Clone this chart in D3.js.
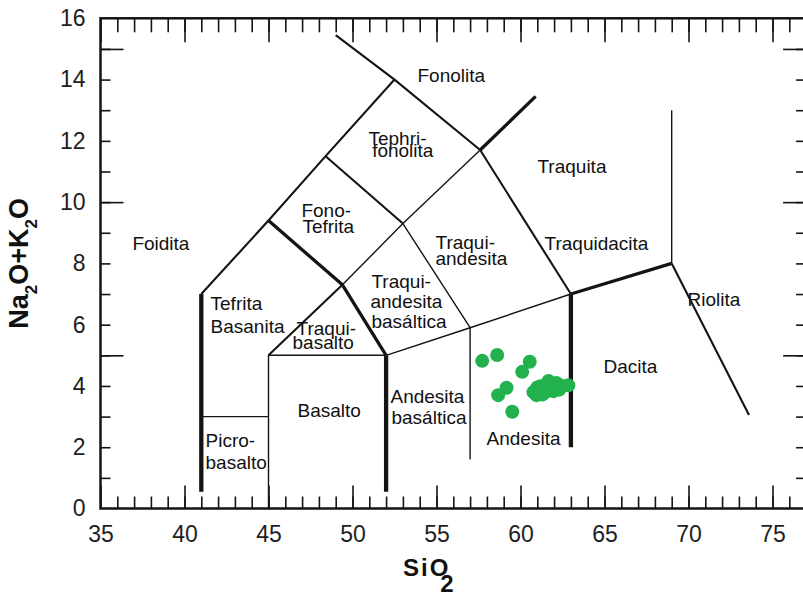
<!DOCTYPE html>
<html>
<head>
<meta charset="utf-8">
<script src="https://cdn.jsdelivr.net/npm/d3@7"></script>
<style>
  html, body { margin: 0; padding: 0; background: #fff; }
  svg { display: block; font-family: "Liberation Sans", Arial, sans-serif; }
</style>
</head>
<body>
<svg id="chart" width="803" height="596"></svg>
<script>
// Tick values
const xLabelTicks = [35, 40, 45, 50, 55, 60, 65, 70, 75];
const xMinorTicks = d3.range(36, 77);
const yLabelTicks = [0, 2, 4, 6, 8, 10, 12, 14, 16];
const yMajorTicks = [5, 10, 15];
const yMinorTicks = d3.range(1, 16);

// Samples: SiO2 (wt%) and Na2O+K2O (wt%)
const sio2   = [57.72, 58.61, 60.55, 60.10, 59.17, 58.67, 59.51,
                60.77, 61.19, 61.67, 62.14, 62.50, 61.49, 61.96, 61.30,
                62.85, 62.30, 61.00, 60.95];
const alkali = [4.82, 5.01, 4.79, 4.46, 3.94, 3.70, 3.16,
                3.80, 3.99, 4.16, 4.10, 4.00, 3.80, 3.83, 3.72,
                4.02, 3.88, 3.95, 3.70];

// TAS field boundaries (SiO2, Na2O+K2O), grouped by drawn weight
const thinBoundaries = [
  [[41, 3], [45, 3]],
  [[45, 0], [45, 5], [52, 5]],
  [[49.4, 7.3], [53, 9.3], [57, 5.9]],
  [[53, 9.3], [57.6, 11.7]],
  [[52, 5], [57, 5.9], [63, 7]],
  [[57, 5.9], [57, 1.6]],
  [[69, 8], [69, 13]]
];
const mediumBoundaries = [
  [[45, 5], [49.4, 7.3]],
  [[41, 7], [45, 9.4], [48.4, 11.5], [52.5, 14], [49, 15.45]],
  [[48.4, 11.5], [53, 9.3]],
  [[52.5, 14], [57.6, 11.7], [63, 7]],
  [[69, 8], [73.6, 3.05]]
];
const heavyBoundaries = [
  [[45, 9.4], [49.4, 7.3], [52, 5]],
  [[57.6, 11.7], [60.9, 13.45]],
  [[63, 7], [69, 8]]
];
const thickBoundaries = [
  [[41, 0.55], [41, 7]],
  [[52, 0.55], [52, 5]],
  [[63, 2], [63, 7]]
];

// Field names, one entry per text line (left edge, baseline)
const fieldNames = [
  { text: "Fonolita",   x: 53.87, y: 13.92 },
  { text: "Tephri-",    x: 50.95, y: 11.86 },
  { text: "fonolita",   x: 51.17, y: 11.47 },
  { text: "Traquita",   x: 61.01, y: 10.95 },
  { text: "Traquidacita", x: 61.43, y: 8.44 },
  { text: "Traqui-",    x: 54.94, y: 8.47 },
  { text: "andesita",   x: 54.94, y: 7.95 },
  { text: "Traqui-",    x: 51.13, y: 7.20 },
  { text: "andesita",   x: 51.07, y: 6.54 },
  { text: "basáltica",  x: 51.13, y: 5.89 },
  { text: "Fono-",      x: 46.96, y: 9.51 },
  { text: "Tefrita",    x: 47.02, y: 8.99 },
  { text: "Tefrita",    x: 41.55, y: 6.48 },
  { text: "Basanita",   x: 41.55, y: 5.73 },
  { text: "Traqui-",    x: 46.67, y: 5.66 },
  { text: "basalto",    x: 46.43, y: 5.21 },
  { text: "Foidita",    x: 36.90, y: 8.44 },
  { text: "Riolita",    x: 69.94, y: 6.61 },
  { text: "Dacita",     x: 64.94, y: 4.42 },
  { text: "Basalto",    x: 46.73, y: 2.99 },
  { text: "Picro-",     x: 41.25, y: 2.01 },
  { text: "basalto",    x: 41.25, y: 1.29 },
  { text: "Andesita",   x: 52.26, y: 3.44 },
  { text: "basáltica",  x: 52.32, y: 2.75 },
  { text: "Andesita",   x: 57.98, y: 2.07 }
];

const svg = d3.select("#chart");
const x = d3.scaleLinear().domain([35, 77]).range([100.5, 806.1]);
const y = d3.scaleLinear().domain([0, 16]).range([508.5, 18.3]);
const ink = "#141414";

function styleAxis(g) {
  g.select(".domain").remove();
  g.selectAll(".tick line").attr("stroke", ink).attr("stroke-width", 1.6);
  g.selectAll(".tick text")
    .attr("fill", "#1e1e1e")
    .attr("font-size", 23)
    .attr("font-family", "\"Liberation Sans\", Arial, sans-serif");
}

// Bottom axis
svg.append("g").attr("transform", `translate(0,${y(0)})`)
  .call(d3.axisBottom(x).tickValues(xMinorTicks).tickSize(-12).tickFormat(""))
  .call(styleAxis);
svg.append("g").attr("transform", `translate(0,${y(0)})`)
  .call(d3.axisBottom(x).tickValues(xLabelTicks).tickSize(-23).tickPadding(17).tickFormat(d3.format("d")))
  .call(styleAxis);

// Top axis
svg.append("g").attr("transform", `translate(0,${y(16)})`)
  .call(d3.axisTop(x).tickValues(xMinorTicks).tickSize(-14).tickFormat(""))
  .call(styleAxis);
svg.append("g").attr("transform", `translate(0,${y(16)})`)
  .call(d3.axisTop(x).tickValues(xLabelTicks).tickSize(-24).tickFormat(""))
  .call(styleAxis);

// Left axis
svg.append("g").attr("transform", `translate(${x(35)},0)`)
  .call(d3.axisLeft(y).tickValues(yMinorTicks).tickSize(-10).tickFormat(""))
  .call(styleAxis);
svg.append("g").attr("transform", `translate(${x(35)},0)`)
  .call(d3.axisLeft(y).tickValues(yMajorTicks).tickSize(-23).tickFormat(""))
  .call(styleAxis);
svg.append("g").attr("transform", `translate(${x(35)},0)`)
  .call(d3.axisLeft(y).tickValues(yLabelTicks).tickSize(0).tickPadding(15).tickFormat(d3.format("d")))
  .call(styleAxis);

// Right axis
svg.append("g").attr("transform", `translate(${x(77)},0)`)
  .call(d3.axisRight(y).tickValues(yMinorTicks).tickSize(-10).tickFormat(""))
  .call(styleAxis);
svg.append("g").attr("transform", `translate(${x(77)},0)`)
  .call(d3.axisRight(y).tickValues(yMajorTicks).tickSize(-23).tickFormat(""))
  .call(styleAxis);

// Plot frame
svg.append("rect")
  .attr("x", x(35)).attr("y", y(16))
  .attr("width", x(77) - x(35)).attr("height", y(0) - y(16))
  .attr("fill", "none").attr("stroke", ink).attr("stroke-width", 2.5);

// Field boundaries
const line = d3.line().x(d => x(d[0])).y(d => y(d[1]));
function drawBoundaries(list, width) {
  svg.append("g").selectAll("path").data(list).join("path")
    .attr("d", line)
    .attr("fill", "none")
    .attr("stroke", ink)
    .attr("stroke-width", width)
    .attr("stroke-linejoin", "round");
}
drawBoundaries(thinBoundaries, 1.4);
drawBoundaries(mediumBoundaries, 2.1);
drawBoundaries(heavyBoundaries, 3.3);
drawBoundaries(thickBoundaries, 4.3);

// Field names
svg.append("g").selectAll("text").data(fieldNames).join("text")
  .attr("x", d => x(d.x))
  .attr("y", d => y(d.y))
  .attr("font-size", 19)
  .attr("fill", "#111")
  .text(d => d.text);

// Samples
svg.append("g").selectAll("circle").data(sio2).join("circle")
  .attr("cx", d => x(d))
  .attr("cy", (d, i) => y(alkali[i]))
  .attr("r", 7)
  .attr("fill", "#22b14c");

// Axis titles
const yTitle = svg.append("text")
  .attr("transform", `translate(28,${(y(0) + y(16)) / 2}) rotate(-90)`)
  .attr("text-anchor", "middle")
  .attr("font-size", 27)
  .attr("font-weight", "bold")
  .attr("fill", "#111");
yTitle.append("tspan").text("Na");
yTitle.append("tspan").attr("font-size", 17).attr("dy", 9).text("2");
yTitle.append("tspan").attr("dy", -9).text("O+K");
yTitle.append("tspan").attr("font-size", 17).attr("dy", 9).text("2");
yTitle.append("tspan").attr("dy", -9).text("O");

const xTitle = svg.append("text")
  .attr("x", 403).attr("y", 576)
  .attr("font-size", 24)
  .attr("font-weight", "bold")
  .attr("letter-spacing", 2)
  .attr("fill", "#111");
xTitle.append("tspan").text("SiO");
xTitle.append("tspan").attr("dx", -10).attr("dy", 16).text("2");
</script>
</body>
</html>
